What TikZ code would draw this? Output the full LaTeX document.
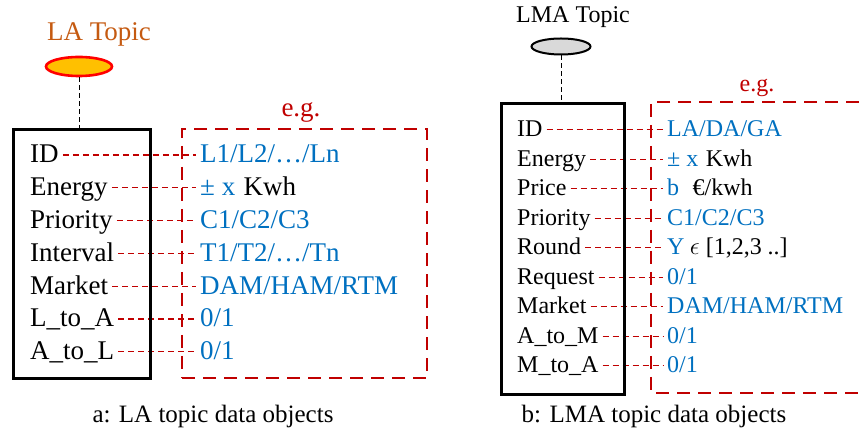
\documentclass[tikz,border=0pt]{standalone}
\usepackage{fontspec}
\setmainfont{Liberation Serif}
\usetikzlibrary{shapes.geometric}
\definecolor{vblue}{HTML}{0070C0}
\definecolor{dred}{HTML}{C00000}
\definecolor{topicor}{HTML}{C55A11}
\definecolor{topicfill}{HTML}{FFC000}
\definecolor{lgray}{HTML}{D9D9D9}
\pgfdeclarelayer{links}
\pgfsetlayers{links,main}
\tikzset{
  bigtxt/.style={font=\fontsize{27}{27}\selectfont},
  smalltxt/.style={font=\fontsize{24}{24}\selectfont},
  field/.style={anchor=base west, inner sep=0pt, text=black},
  val/.style={anchor=base west, inner sep=0pt, text=vblue},
  unit/.style={anchor=base west, inner sep=0pt, text=black},
  link/.style={draw=dred, line width=1.3pt, dash pattern=on 6pt off 4pt},
  frame/.style={draw=black, line width=2.8pt, inner sep=0pt, anchor=north west},
  egbox/.style={draw=dred, line width=2pt, dash pattern=on 13pt off 8pt},
  stem/.style={draw=black, line width=0.9pt, dash pattern=on 5pt off 3pt},
}
\begin{document}
\begin{tikzpicture}[x=1pt,y=-1pt]
\clip (0,0) rectangle (860,435);

% ---------- a: LA topic ----------
\node[bigtxt, text=topicor, anchor=base, inner sep=0pt] (latitle) at (99,41) {LA Topic};
\node[ellipse, draw=red, fill=topicfill, line width=2.6pt,
      minimum width=66pt, minimum height=19pt, inner sep=0pt] (latopic) at (79,66.5) {};
\node[frame, minimum width=137pt, minimum height=249pt] (boxL) at (12,128) {};
\draw[stem] (latopic.south) -- (latopic.south |- boxL.north);
\node[egbox, inner sep=0pt, anchor=north west, minimum width=245pt, minimum height=249pt] (egL) at (181,128) {};
\node[bigtxt, text=dred, anchor=base, inner sep=0pt] (egLt) at (301,117) {e.g.};

\begin{scope}[bigtxt]
\node[field] (l1) at (30,163.0) {ID};
\node[field] (l2) at (30,195.8) {Energy};
\node[field] (l3) at (30,228.6) {Priority};
\node[field] (l4) at (30,261.4) {Interval};
\node[field] (l5) at (30,294.2) {Market};
\node[field] (l6) at (30,327.0) {L\_to\_A};
\node[field] (l7) at (30,359.8) {A\_to\_L};
\node[val] (v1) at (200,163.0) {L1/L2/…/Ln};
\node[val] (v2) at (200,195.8) {± x};
\node[unit] (v2u) at ([xshift=8pt]v2.base east) {Kwh};
\node[val] (v3) at (200,228.6) {C1/C2/C3};
\node[val] (v4) at (200,261.4) {T1/T2/…/Tn};
\node[val] (v5) at (200,294.2) {DAM/HAM/RTM};
\node[val] (v6) at (200,327.0) {0/1};
\node[val] (v7) at (200,359.8) {0/1};
\end{scope}

% ---------- b: LMA topic ----------
\node[smalltxt, anchor=base, inner sep=0pt] (lmatitle) at (573,23) {LMA Topic};
\node[ellipse, draw=black, fill=lgray, line width=2pt,
      minimum width=59pt, minimum height=16pt, inner sep=0pt] (lmatopic) at (561,46.5) {};
\node[frame, minimum width=123pt, minimum height=291pt] (boxR) at (500,102) {};
\draw[stem] (lmatopic.south) -- (lmatopic.south |- boxR.north);
\coordinate (egRa) at (880,102);
\coordinate (egRb) at (651,102);
\coordinate (egRc) at (651,393);
\coordinate (egRd) at (880,393);
\draw[egbox] (egRa) -- (egRb) -- (egRc) -- (egRd);
\node[smalltxt, text=dred, anchor=base, inner sep=0pt] (egRt) at (757,92) {e.g.};

\begin{scope}[smalltxt]
\node[field] (r1) at (517,136.7) {ID};
\node[field] (r2) at (517,166.2) {Energy};
\node[field] (r3) at (517,195.7) {Price};
\node[field] (r4) at (517,225.2) {Priority};
\node[field] (r5) at (517,254.7) {Round};
\node[field] (r6) at (517,284.2) {Request};
\node[field] (r7) at (517,313.7) {Market};
\node[field] (r8) at (517,343.2) {A\_to\_M};
\node[field] (r9) at (517,372.7) {M\_to\_A};
\node[val] (w1) at (667,136.7) {LA/DA/GA};
\node[val] (w2) at (667,166.2) {± x};
\node[unit] (w2u) at ([xshift=7pt]w2.base east) {Kwh};
\node[val] (w3) at (667,195.7) {b};
\node[unit] (w3u) at ([xshift=13pt]w3.base east) {€/kwh};
\node[val] (w4) at (667,225.2) {C1/C2/C3};
\node[val] (w5) at (667,254.7) {Y};
\node[unit] (w5u) at ([xshift=5pt]w5.base east) {$\epsilon$ [1,2,3 ..]};
\node[val] (w6) at (667,284.2) {0/1};
\node[val] (w7) at (667,313.7) {DAM/HAM/RTM};
\node[val] (w8) at (667,343.2) {0/1};
\node[val] (w9) at (667,372.7) {0/1};
\end{scope}

% ---------- dashed field-to-value links ----------
\begin{pgfonlayer}{links}
\foreach \i in {1,...,7}
  \draw[link] ([shift={(4pt,8pt)}]l\i.base east) -- ([shift={(-4pt,8pt)}]v\i.base west);
\foreach \i in {1,...,9}
  \draw[link] ([shift={(4pt,7pt)}]r\i.base east) -- ([shift={(-4pt,7pt)}]w\i.base west);
\end{pgfonlayer}

% ---------- captions ----------
\node[font=\fontsize{25}{25}\selectfont, anchor=base, inner sep=0pt] (capa) at (213,423) {a: LA topic data objects};
\node[font=\fontsize{25}{25}\selectfont, anchor=base, inner sep=0pt] (capb) at (654,423) {b: LMA topic data objects};
\end{tikzpicture}
\end{document}
